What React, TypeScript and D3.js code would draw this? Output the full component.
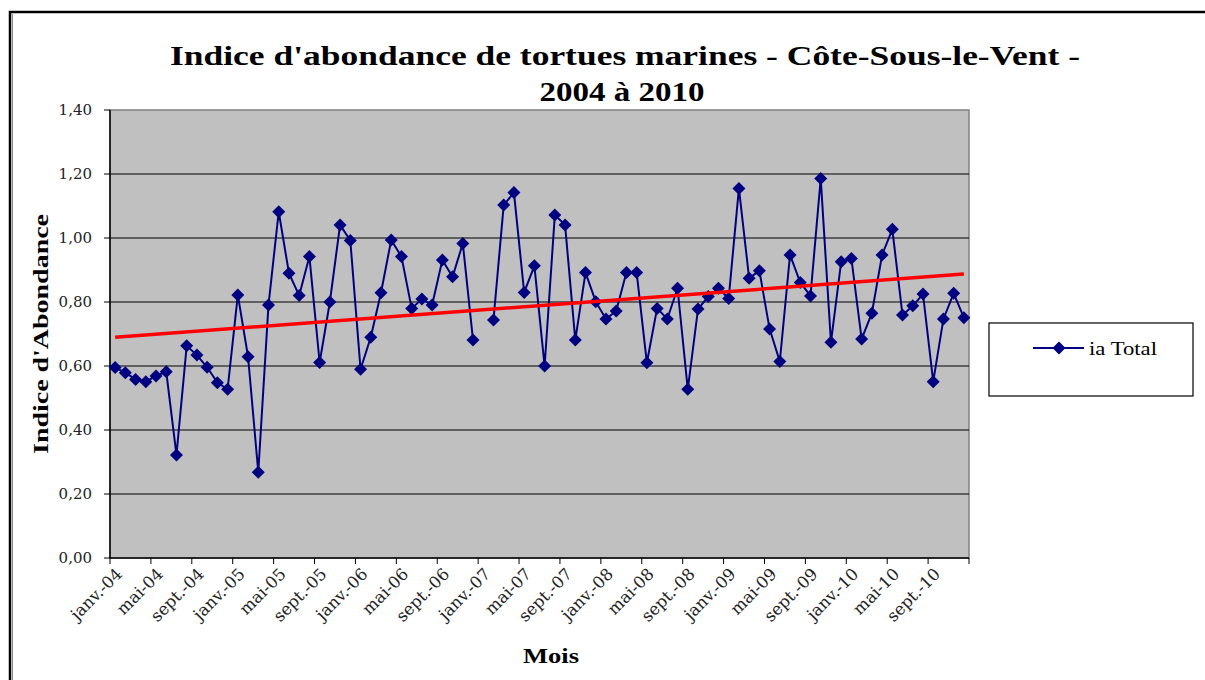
import React from "react";
import * as d3 from "d3";

// mois (libellés Excel)
const monthNames = ["janv.", "févr.", "mars", "avr.", "mai", "juin", "juil.", "août", "sept.", "oct.", "nov.", "déc."];
const years = ["04", "05", "06", "07", "08", "09", "10"];

// indice d'abondance par année (null = pas de donnée)
const ia2004 = [0.595, 0.579, 0.558, 0.551, 0.569, 0.582, 0.322, 0.663, 0.634, 0.596, 0.548, 0.527];
const ia2005 = [0.822, 0.629, 0.268, 0.791, 1.082, 0.89, 0.82, 0.942, 0.611, 0.8, 1.041, 0.992];
const ia2006 = [0.59, 0.69, 0.829, 0.994, 0.942, 0.78, 0.809, 0.791, 0.931, 0.879, 0.983, 0.681];
const ia2007 = [null, 0.744, 1.103, 1.142, 0.83, 0.913, 0.6, 1.072, 1.041, 0.681, 0.892, 0.801];
const ia2008 = [0.747, 0.772, 0.892, 0.892, 0.61, 0.78, 0.747, 0.843, 0.527, 0.778, 0.817, 0.843];
const ia2009 = [0.811, 1.155, 0.874, 0.898, 0.716, 0.614, 0.947, 0.861, 0.819, 1.186, 0.674, 0.926];
const ia2010 = [0.936, 0.684, 0.765, 0.947, 1.027, 0.759, 0.788, 0.825, 0.551, 0.747, 0.827, 0.751];

const yTicks = [0, 0.2, 0.4, 0.6, 0.8, 1.0, 1.2, 1.4];

const values: (number | null)[] = [...ia2004, ...ia2005, ...ia2006, ...ia2007, ...ia2008, ...ia2009, ...ia2010];
const months = years.flatMap((y) => monthNames.map((m) => `${m}-${y}`));

const serif = "'Liberation Serif', 'DejaVu Serif', serif";
const wideSerif = "'DejaVu Serif', 'Liberation Serif', serif";

export default function App() {
  const width = 1205;
  const height = 680;
  const plot = { left: 110, right: 969, top: 110, bottom: 558 };

  const x = d3
    .scaleBand<number>()
    .domain(d3.range(months.length))
    .range([plot.left, plot.right])
    .padding(0);
  const bw = x.bandwidth();
  const cx = (i: number) => (x(i) as number) + bw / 2;

  const y = d3.scaleLinear().domain([0, 1.4]).range([plot.bottom, plot.top]);

  const line = d3
    .line<number | null>()
    .defined((d) => d != null)
    .x((_, i) => cx(i))
    .y((d) => y(d as number));

  // trend line (least squares, like Excel)
  const pts = values.map((v, i) => [i, v] as [number, number | null]).filter((p) => p[1] != null) as [number, number][];
  const mx = d3.mean(pts, (p) => p[0]) as number;
  const my = d3.mean(pts, (p) => p[1]) as number;
  const slope =
    (d3.sum(pts, (p) => (p[0] - mx) * (p[1] - my)) as number) / (d3.sum(pts, (p) => (p[0] - mx) ** 2) as number);
  const icpt = my - slope * mx;
  const i0 = 0;
  const i1 = months.length - 1;

  const fmt = (v: number) => v.toFixed(2).replace(".", ",");
  const diamond = "M0,-6.5L6.5,0L0,6.5L-6.5,0Z";
  const labelIdx = d3.range(0, months.length, 4);
  const tickIdx = d3.range(0, months.length + 1, 4);

  return (
    <svg width={width} height={height} style={{ position: "absolute", left: 0, top: 0, background: "#fff" }}>
      {/* outer frame */}
      <rect x={10} y={12} width={1300} height={800} fill="#fff" stroke="#000" strokeWidth={2.5} />
      <line x1={12.5} x2={12.5} y1={14} y2={680} stroke="#888" strokeWidth={1} />

      {/* title */}
      <text
        x={625}
        y={65}
        textAnchor="middle"
        fontFamily={serif}
        fontWeight="bold"
        fontSize={28}
        textLength={910}
        lengthAdjust="spacingAndGlyphs"
        fill="#000"
      >
        Indice d'abondance de tortues marines - Côte-Sous-le-Vent -
      </text>
      <text
        x={622}
        y={101}
        textAnchor="middle"
        fontFamily={serif}
        fontWeight="bold"
        fontSize={28}
        textLength={165}
        lengthAdjust="spacingAndGlyphs"
        fill="#000"
      >
        2004 à 2010
      </text>

      {/* plot area */}
      <rect
        x={plot.left}
        y={plot.top}
        width={plot.right - plot.left}
        height={plot.bottom - plot.top}
        fill="#c0c0c0"
        stroke="#808080"
        strokeWidth={1.5}
      />

      {/* gridlines + y ticks */}
      {yTicks.map((t) => (
        <g key={t}>
          {t > 0 && t < 1.4 && (
            <line x1={plot.left} x2={plot.right} y1={y(t)} y2={y(t)} stroke="#000" strokeWidth={1} />
          )}
          <line x1={plot.left - 6} x2={plot.left} y1={y(t)} y2={y(t)} stroke="#000" />
          <text
            x={plot.left - 18}
            y={y(t)}
            dy="0.35em"
            textAnchor="end"
            fontFamily={wideSerif}
            fontSize={15}
            fill="#222"
          >
            {fmt(t)}
          </text>
        </g>
      ))}
      <line x1={plot.left} x2={plot.left} y1={plot.top} y2={plot.bottom} stroke="#000" strokeWidth={1.5} />

      {/* x axis */}
      <line x1={plot.left} x2={plot.right} y1={plot.bottom} y2={plot.bottom} stroke="#000" strokeWidth={1.5} />
      {tickIdx.map((i) => {
        const xp = i < months.length ? (x(i) as number) : plot.right;
        return <line key={i} x1={xp} x2={xp} y1={plot.bottom} y2={plot.bottom + 6} stroke="#000" />;
      })}
      {labelIdx.map((i) => (
        <text
          key={i}
          transform={`translate(${cx(i) + 4},${plot.bottom + 13}) rotate(-45)`}
          textAnchor="end"
          dy="0.35em"
          fontFamily={wideSerif}
          fontSize={16.5}
          fill="#222"
        >
          {months[i]}
        </text>
      ))}

      {/* axis titles */}
      <text
        x={551}
        y={663}
        textAnchor="middle"
        fontFamily={serif}
        fontWeight="bold"
        fontSize={21}
        textLength={56}
        lengthAdjust="spacingAndGlyphs"
        fill="#000"
      >
        Mois
      </text>
      <text
        transform={`translate(48,${(plot.top + plot.bottom) / 2}) rotate(-90)`}
        textAnchor="middle"
        fontFamily={serif}
        fontWeight="bold"
        fontSize={20}
        textLength={240}
        lengthAdjust="spacingAndGlyphs"
        fill="#000"
      >
        Indice d'Abondance
      </text>

      {/* series */}
      <path d={line(values) || ""} fill="none" stroke="#000080" strokeWidth={2} />
      {values.map((v, i) =>
        v == null ? null : <path key={i} d={diamond} transform={`translate(${cx(i)},${y(v)})`} fill="#000080" />
      )}

      {/* trend */}
      <line
        x1={cx(i0)}
        x2={cx(i1)}
        y1={y(icpt + slope * i0)}
        y2={y(icpt + slope * i1)}
        stroke="#ff0000"
        strokeWidth={3.5}
      />

      {/* legend */}
      <rect x={989} y={323} width={204} height={73} fill="#fff" stroke="#000" strokeWidth={1.2} />
      <line x1={1033} x2={1084} y1={348} y2={348} stroke="#000080" strokeWidth={2} />
      <path d={diamond} transform="translate(1059,348)" fill="#000080" />
      <text
        x={1089}
        y={355}
        fontFamily={serif}
        fontSize={19}
        textLength={68}
        lengthAdjust="spacingAndGlyphs"
        fill="#000"
      >
        ia Total
      </text>
    </svg>
  );
}
